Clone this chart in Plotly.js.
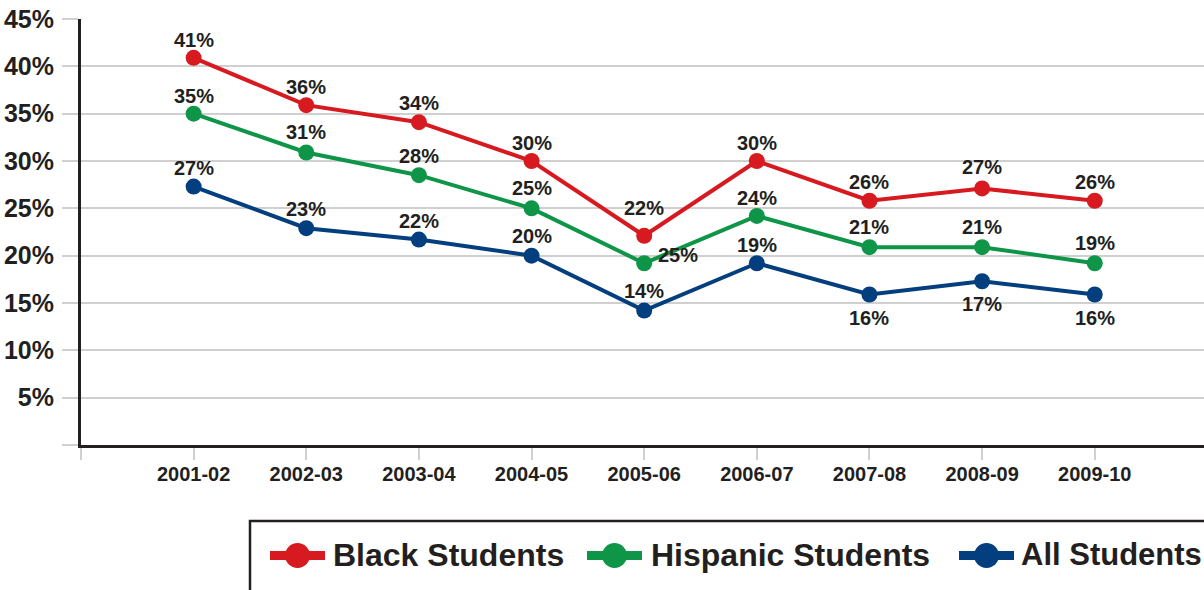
<!DOCTYPE html>
<html>
<head>
<meta charset="utf-8">
<script src="https://cdn.plot.ly/plotly-3.0.1.min.js"></script>
<style>
  html, body { margin: 0; padding: 0; background: #fff; overflow: hidden; }
  #chart { width: 1204px; height: 590px; }
</style>
</head>
<body>
<div id="chart"></div>
<script>
// ---- data ----
const categories = ['2001-02', '2002-03', '2003-04', '2004-05', '2005-06', '2006-07', '2007-08', '2008-09', '2009-10'];
const blackValues    = [40.9, 35.9, 34.1, 30.0, 22.1, 30.0, 25.8, 27.1, 25.8];
const hispanicValues = [35.0, 30.9, 28.5, 25.0, 19.2, 24.2, 20.9, 20.9, 19.2];
const allValues      = [27.3, 22.9, 21.7, 20.0, 14.2, 19.2, 15.9, 17.3, 15.9];
const blackLabels    = ['41%', '36%', '34%', '30%', '22%', '30%', '26%', '27%', '26%'];
const hispanicLabels = ['35%', '31%', '28%', '25%', '25%', '24%', '21%', '21%', '19%'];
const allLabels      = ['27%', '23%', '22%', '20%', '14%', '19%', '16%', '17%', '16%'];
const yTickValues = [0, 5, 10, 15, 20, 25, 30, 35, 40, 45];
const yTickLabels = ['', '5%', '10%', '15%', '20%', '25%', '30%', '35%', '40%', '45%'];
const seriesNames = ['Black Students', 'Hispanic Students', 'All Students'];

// ---- style ----
const colors = ['#d71920', '#0f9547', '#033e7e'];
const ink = '#231f20';
const FONT = '"Liberation Sans", Arial, Helvetica, sans-serif';
// label offsets (pixels) per point: [xshift, yshift]
const blackShift    = [[0,18],[0,18],[0,19],[0,18],[0,28],[0,18],[0,19],[0,21],[0,19]];
const hispanicShift = [[0,18],[0,20],[0,19],[0,20],[34,8],[0,18],[0,20],[0,20],[0,20]];
const allShift      = [[0,19],[0,19],[0,19],[0,20],[0,20],[0,18],[0,-24],[0,-23],[0,-24]];

const xIdx = categories.map((_, i) => i);
const seriesVals = [blackValues, hispanicValues, allValues];
const seriesLabels = [blackLabels, hispanicLabels, allLabels];
const seriesShift = [blackShift, hispanicShift, allShift];

const traces = seriesVals.map((vals, s) => ({
  type: 'scatter',
  mode: 'lines+markers',
  name: seriesNames[s],
  x: xIdx,
  y: vals,
  line: { color: colors[s], width: 4 },
  marker: { color: colors[s], size: 16 },
  cliponaxis: false,
  hoverinfo: 'skip'
}));

const annotations = [];
seriesVals.forEach((vals, s) => {
  vals.forEach((v, i) => {
    annotations.push({
      x: xIdx[i], y: v, xref: 'x', yref: 'y',
      text: seriesLabels[s][i],
      showarrow: false,
      xshift: seriesShift[s][i][0],
      yshift: seriesShift[s][i][1],
      font: { family: FONT, size: 20, color: ink, weight: 'bold' }
    });
  });
});

// ---- custom legend (pixel geometry -> paper) ----
const W = 1204, H = 590;
const M = { l: 81, r: 0, t: 19, b: 145 };
const pw = W - M.l - M.r, ph = H - M.t - M.b;
const px = v => (v - M.l) / pw;
const py = v => (H - M.b - v) / ph;

const shapes = [];
shapes.push({
  type: 'rect', xref: 'paper', yref: 'paper',
  x0: px(250), x1: px(1240), y0: py(521), y1: py(620),
  line: { color: ink, width: 2.5 }, fillcolor: '#ffffff', layer: 'above'
});
const legendItems = [
  { lx: 270, cx: 297.5, tx: 331, fs: 32 },
  { lx: 587, cx: 614.5, tx: 648.5, fs: 32 },
  { lx: 959, cx: 986.5, tx: 1019, fs: 31 }
];
const legY = 555.5;
legendItems.forEach((it, s) => {
  shapes.push({
    type: 'line', xref: 'paper', yref: 'paper',
    x0: px(it.lx), x1: px(it.lx + 55), y0: py(legY), y1: py(legY),
    line: { color: colors[s], width: 9 }, layer: 'above'
  });
  shapes.push({
    type: 'circle', xref: 'paper', yref: 'paper',
    xsizemode: 'pixel', ysizemode: 'pixel',
    xanchor: px(it.cx), yanchor: py(legY),
    x0: -12.5, x1: 12.5, y0: -12.5, y1: 12.5,
    fillcolor: colors[s], line: { width: 0 }, layer: 'above'
  });
  annotations.push({
    xref: 'paper', yref: 'paper', x: px(it.tx), y: py(legY - 1),
    xanchor: 'left', yanchor: 'middle', showarrow: false,
    text: seriesNames[s],
    font: { family: FONT, size: it.fs, color: ink, weight: 'bold' }
  });
});

const layout = {
  width: W, height: H,
  margin: M,
  paper_bgcolor: '#ffffff', plot_bgcolor: '#ffffff',
  showlegend: false,
  font: { family: FONT, color: ink },
  xaxis: {
    range: [-1, 8.97],
    tickmode: 'array',
    tickvals: [-1].concat(xIdx),
    ticktext: [''].concat(categories),
    showgrid: false, zeroline: false,
    showline: true, linecolor: ink, linewidth: 3,
    ticks: 'outside', ticklen: 12, tickwidth: 2, tickcolor: '#d0d0d0',
    ticklabelstandoff: -3,
    tickfont: { family: FONT, size: 20, color: ink, weight: 'bold' },
    fixedrange: true
  },
  yaxis: {
    range: [0, 45],
    tickmode: 'array',
    tickvals: yTickValues,
    ticktext: yTickLabels,
    showgrid: true, gridcolor: '#d0d0d0', gridwidth: 2,
    zeroline: false,
    showline: true, linecolor: ink, linewidth: 3,
    ticks: 'outside', ticklen: 16, tickwidth: 2, tickcolor: '#d0d0d0',
    ticklabelstandoff: 3,
    tickfont: { family: FONT, size: 25, color: ink, weight: 'bold' },
    fixedrange: true
  },
  annotations: annotations,
  shapes: shapes
};

Plotly.newPlot('chart', traces, layout, { displayModeBar: false, staticPlot: true });
</script>
</body>
</html>
